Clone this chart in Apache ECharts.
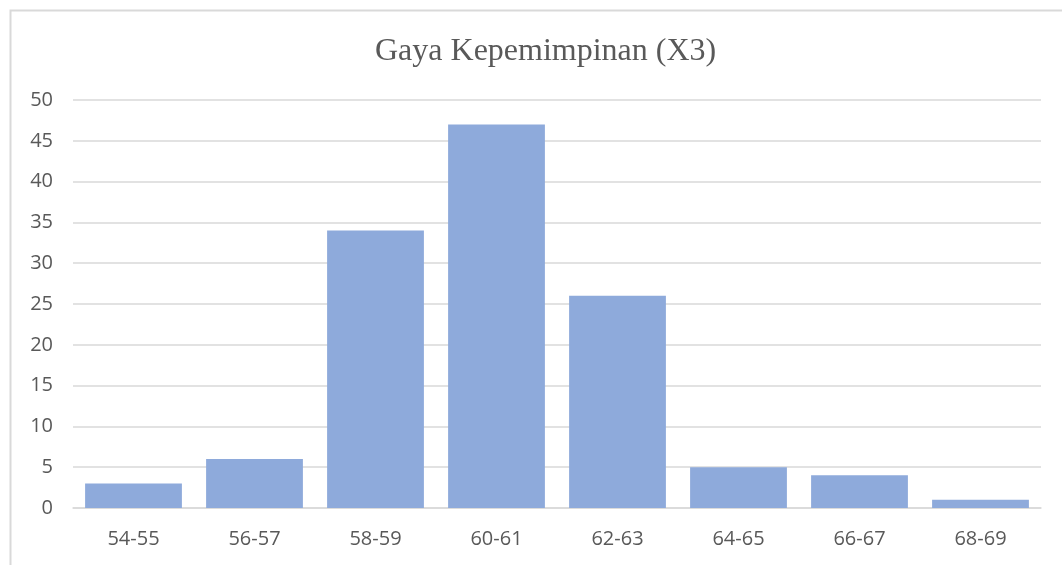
<!DOCTYPE html>
<html>
<head>
<meta charset="utf-8">
<script src="https://cdn.jsdelivr.net/npm/echarts@6/dist/echarts.min.js"></script>
<style>
  html, body { margin: 0; padding: 0; background: #fff; }
  #chart { width: 1062px; height: 565px; }
</style>
</head>
<body>
<div id="chart"></div>
<script>
  // kelas interval
  const categories = ['54-55', '56-57', '58-59', '60-61', '62-63', '64-65', '66-67', '68-69']
  // frekuensi
  const frequencies = [3, 6, 34, 47, 26, 5, 4, 1]
  const yTicks = { min: 0, max: 50, interval: 5 }

  const chart = echarts.init(document.getElementById('chart'))
  chart.setOption({
    animation: false,
    backgroundColor: '#fff',
    graphic: [
      {
        type: 'polyline',
        shape: { points: [[10.5, 565], [10.5, 10.5], [1062, 10.5]] },
        style: { stroke: '#d9d9d9', lineWidth: 2, fill: null }
      }
    ],
    title: {
      text: 'Gaya Kepemimpinan (X3)',
      left: 370,
      top: 31,
      textStyle: {
        fontFamily: 'Liberation Serif',
        fontWeight: 'normal',
        fontSize: 32,
        color: '#595959'
      }
    },
    grid: {
      left: 73,
      right: 21,
      top: 100,
      bottom: 57
    },
    xAxis: {
      type: 'category',
      data: categories,
      axisLine: { lineStyle: { color: '#d9d9d9', width: 1.5 } },
      axisTick: { show: false },
      axisLabel: {
        color: '#595959',
        fontFamily: 'Open Sans',
        fontSize: 20,
        margin: 21
      }
    },
    yAxis: {
      type: 'value',
      min: yTicks.min,
      max: yTicks.max,
      interval: yTicks.interval,
      axisLine: { show: false },
      axisTick: { show: false },
      splitLine: { lineStyle: { color: '#d9d9d9', width: 1.5 } },
      axisLabel: {
        color: '#595959',
        fontFamily: 'Open Sans',
        fontSize: 20,
        margin: 20
      }
    },
    series: [
      {
        type: 'bar',
        data: frequencies,
        barCategoryGap: '20%',
        itemStyle: { color: '#8eaadb' }
      }
    ]
  })
</script>
</body>
</html>
